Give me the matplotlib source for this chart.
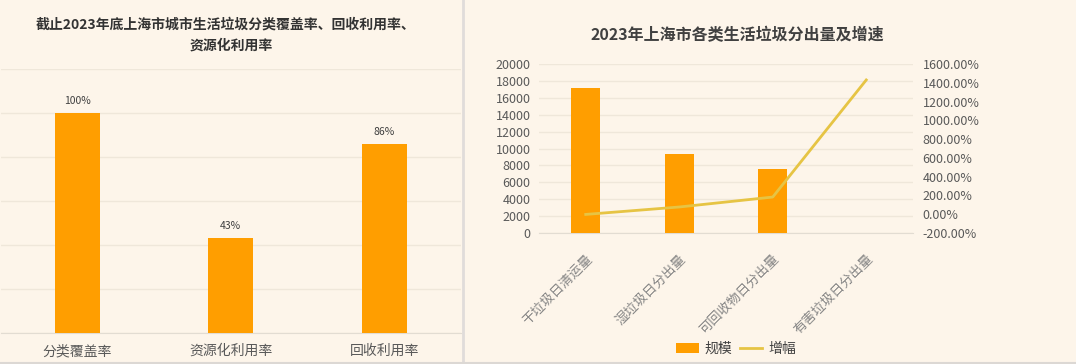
import matplotlib
matplotlib.use("Agg")
import matplotlib.pyplot as plt
from matplotlib.lines import Line2D
from matplotlib.patches import Patch
from matplotlib.ticker import FuncFormatter, MultipleLocator

plt.rcParams["font.family"] = ["Noto Sans CJK SC", "DejaVu Sans"]

# left chart: rates at end of 2023
rate_labels = ["分类覆盖率", "资源化利用率", "回收利用率"]
rate_values = [100, 43, 86]

# right chart: daily output by waste type, and growth
waste_cats = ["干垃圾日清运量", "湿垃圾日分出量", "可回收物日分出量", "有害垃圾日分出量"]
waste_volume = [17200, 9400, 7600, 3]
waste_growth = [-2, 77, 183, 1430]

BG = "#FDF5EA"
BAR = "#FF9E00"
LINE = "#E6C444"
GRID = "#EFE7DA"
TXT = "#595959"

W, H = 1076, 364
fig = plt.figure(figsize=(W / 100, H / 100), dpi=100)
fig.patch.set_facecolor(BG)


def px(x0, y0, x1, y1):
    # pixel box (top-left origin) -> figure fraction rect
    return [x0 / W, 1 - y1 / H, (x1 - x0) / W, (y1 - y0) / H]


# ---- left panel ----
ax1 = fig.add_axes(px(0.5, 69, 461, 333))
ax1.set_facecolor(BG)
x1 = range(len(rate_labels))
bars = ax1.bar(x1, rate_values, width=0.29, color=BAR, zorder=3)
ax1.set_xlim(-0.5, 2.5)
ax1.set_ylim(0, 120)
ax1.yaxis.set_major_locator(MultipleLocator(20))
ax1.grid(axis="y", color=GRID, linewidth=1, zorder=0)
ax1.set_yticklabels([])
ax1.tick_params(axis="y", length=0)
ax1.set_xticks(list(x1))
ax1.set_xticklabels(rate_labels, fontsize=10, color=TXT)
ax1.tick_params(axis="x", length=0, pad=8)
for s in ["top", "right", "left"]:
    ax1.spines[s].set_visible(False)
ax1.spines["bottom"].set_color("#E2DCD2")
for b, v in zip(bars, rate_values):
    ax1.annotate(f"{v}%", (b.get_x() + b.get_width() / 2, v),
                 xytext=(0, 5), textcoords="offset points",
                 ha="center", va="bottom", fontsize=7.5, color="#404040")

fig.text(226 / W, 1 - 25 / H, "截止2023年底上海市城市生活垃圾分类覆盖率、回收利用率、",
         ha="center", va="center", fontsize=10, fontweight="bold", color="#333333")
fig.text(231 / W, 1 - 46 / H, "资源化利用率",
         ha="center", va="center", fontsize=10, fontweight="bold", color="#333333")

# ---- right panel ----
ax2 = fig.add_axes(px(539, 64, 913, 233))
ax2.set_facecolor(BG)
x2 = range(len(waste_cats))
ax2.bar(x2, waste_volume, width=0.31, color=BAR, zorder=3, label="规模")
ax2.set_xlim(-0.5, 3.5)
ax2.set_ylim(0, 20000)
ax2.yaxis.set_major_locator(MultipleLocator(2000))
ax2.grid(axis="y", color=GRID, linewidth=1, zorder=0)
ax2.tick_params(axis="y", length=0, pad=6, labelsize=9, labelcolor=TXT)
ax2.set_xticks(list(x2))
ax2.set_xticklabels(waste_cats, rotation=45, ha="right", rotation_mode="anchor",
                    fontsize=9.5, color="#858585")
ax2.tick_params(axis="x", length=0, pad=14)
for s in ["top", "right", "left"]:
    ax2.spines[s].set_visible(False)
ax2.spines["bottom"].set_color("#E2DCD2")

ax3 = ax2.twinx()
ax3.plot(list(x2), waste_growth, color=LINE, linewidth=2, zorder=4, label="增幅")
ax3.set_ylim(-200, 1600)
ax3.yaxis.set_major_locator(MultipleLocator(200))
ax3.yaxis.set_major_formatter(FuncFormatter(lambda v, p: f"{v:.2f}%"))
ax3.tick_params(axis="y", length=0, pad=7, labelsize=9, labelcolor=TXT)
for s in ax3.spines.values():
    s.set_visible(False)

fig.text(737 / W, 1 - 35 / H, "2023年上海市各类生活垃圾分出量及增速",
         ha="center", va="center", fontsize=11.5, fontweight="bold", color="#404040")

handles = [Patch(facecolor=BAR, edgecolor="none"),
           Line2D([0], [0], color=LINE, linewidth=2)]
fig.legend(handles, ["规模", "增幅"], loc="center",
           bbox_to_anchor=(736 / W, 1 - 349 / H), ncol=2, frameon=False,
           fontsize=10, handlelength=1.6, handletextpad=0.4, columnspacing=0.6,
           labelcolor="#404040")

# panel frame lines
fig.add_artist(Line2D([463 / W, 463 / W], [1 - 362 / H, 1], color="#E0DCDA",
                      linewidth=2, transform=fig.transFigure))
fig.add_artist(Line2D([0, 1], [1 - 362.5 / H, 1 - 362.5 / H], color="#DCD8D4",
                      linewidth=1.5, transform=fig.transFigure))

fig.savefig("out.png", dpi=100, facecolor=BG)
